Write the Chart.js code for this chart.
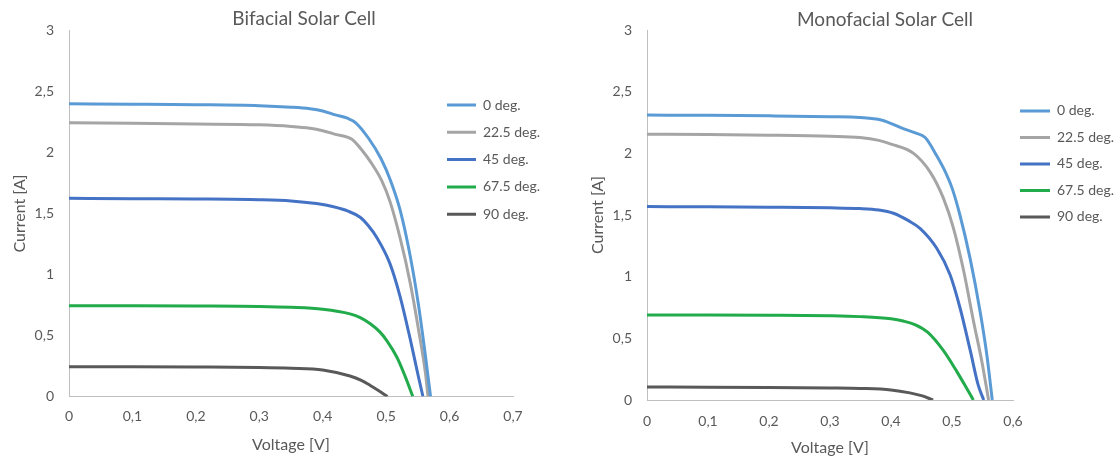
<!DOCTYPE html>
<html>
<head>
<meta charset="utf-8">
<title>Solar cell I-V curves</title>
<script src="https://cdn.jsdelivr.net/npm/chart.js@4.4.1/dist/chart.umd.min.js"></script>
<style>
  html, body { margin: 0; padding: 0; background: #fff; }
  #wrap { position: relative; width: 1117px; height: 458px; }
  canvas { position: absolute; top: 0; }
  #bifacial { left: 0; }
  #monofacial { left: 558px; }
</style>
</head>
<body>
<div id="wrap">
  <canvas id="bifacial" width="558" height="458"></canvas>
  <canvas id="monofacial" width="559" height="458"></canvas>
</div>
<script>
// series names and colours
const seriesNames = ['0 deg.', '22.5 deg.', '45 deg.', '67.5 deg.', '90 deg.'];
const seriesColors = ['#5b9bd5', '#a5a5a5', '#4472c4', '#22ab4b', '#595959'];

// tick labels (comma decimals as in the original)
const currentTicks = ['0', '0,5', '1', '1,5', '2', '2,5', '3'];
const voltTicksBi = ['0', '0,1', '0,2', '0,3', '0,4', '0,5', '0,6', '0,7'];
const voltTicksMono = ['0', '0,1', '0,2', '0,3', '0,4', '0,5', '0,6'];

// Bifacial cell, [voltage V, current A]
const bi0 = [[0,2.40],[0.1,2.397],[0.2,2.393],[0.3,2.385],[0.35,2.373],[0.38,2.36],[0.40,2.342],[0.42,2.31],[0.44,2.28],[0.452,2.245],[0.472,2.12],[0.492,1.95],[0.507,1.77],[0.522,1.53],[0.538,1.15],[0.551,0.75],[0.562,0.33],[0.570,0]];
const bi225 = [[0,2.245],[0.1,2.24],[0.2,2.235],[0.3,2.228],[0.35,2.215],[0.38,2.2],[0.40,2.18],[0.42,2.15],[0.446,2.11],[0.462,2.02],[0.476,1.92],[0.493,1.77],[0.506,1.6],[0.522,1.3],[0.538,0.93],[0.551,0.55],[0.562,0.19],[0.566,0]];
const bi45 = [[0,1.625],[0.1,1.622],[0.2,1.62],[0.3,1.614],[0.35,1.604],[0.39,1.582],[0.417,1.556],[0.44,1.52],[0.459,1.47],[0.472,1.40],[0.485,1.306],[0.506,1.09],[0.522,0.82],[0.538,0.47],[0.551,0.16],[0.558,0]];
const bi675 = [[0,0.745],[0.1,0.745],[0.2,0.743],[0.3,0.739],[0.35,0.732],[0.4,0.716],[0.443,0.678],[0.46,0.645],[0.475,0.596],[0.49,0.53],[0.501,0.459],[0.517,0.322],[0.53,0.165],[0.542,0]];
const bi90 = [[0,0.245],[0.1,0.244],[0.2,0.242],[0.3,0.238],[0.35,0.232],[0.4,0.218],[0.443,0.168],[0.46,0.135],[0.475,0.09],[0.489,0.045],[0.502,0]];

// Monofacial cell, [voltage V, current A]
const mono0 = [[0,2.31],[0.1,2.308],[0.2,2.304],[0.3,2.297],[0.349,2.29],[0.384,2.27],[0.42,2.20],[0.44,2.165],[0.456,2.128],[0.475,1.98],[0.49,1.84],[0.50,1.72],[0.513,1.50],[0.53,1.14],[0.546,0.72],[0.557,0.37],[0.566,0]];
const mono225 = [[0,2.155],[0.1,2.152],[0.2,2.147],[0.3,2.138],[0.349,2.128],[0.38,2.105],[0.40,2.075],[0.437,2.0],[0.464,1.85],[0.486,1.635],[0.502,1.40],[0.519,1.05],[0.535,0.645],[0.549,0.31],[0.56,0]];
const mono45 = [[0,1.568],[0.1,1.566],[0.2,1.563],[0.3,1.558],[0.349,1.552],[0.38,1.54],[0.404,1.514],[0.43,1.45],[0.448,1.39],[0.475,1.23],[0.497,1.014],[0.513,0.75],[0.53,0.40],[0.543,0.12],[0.552,0]];
const mono675 = [[0,0.69],[0.1,0.69],[0.2,0.688],[0.3,0.683],[0.349,0.676],[0.4,0.658],[0.42,0.64],[0.44,0.61],[0.46,0.55],[0.486,0.40],[0.508,0.23],[0.524,0.095],[0.535,0]];
const mono90 = [[0,0.105],[0.1,0.104],[0.2,0.102],[0.3,0.098],[0.35,0.094],[0.4,0.082],[0.431,0.058],[0.45,0.035],[0.469,0]];

Chart.defaults.font.family = 'Lato, "Open Sans", sans-serif';
Chart.defaults.color = '#595959';

// moves the legend and title to where the original has them
const placeBoxes = {
  id: 'placeBoxes',
  afterLayout(chart, args, opts) {
    const lg = chart.legend;
    if (lg) {
      const w = lg.width + 20;
      lg.left = opts.legendX;
      lg.right = opts.legendX + w;
      lg.width = w;
      lg.top = opts.legendY;
      lg.bottom = opts.legendY + 300;
      lg.height = 300;
    }
    const t = chart.titleBlock;
    if (t) {
      const half = (t.right - t.left) / 2;
      t.left = opts.titleX - half;
      t.right = opts.titleX + half;
    }
  }
};

function makeChart(id, o) {
  const datasets = o.series.map((pts, i) => ({
    label: seriesNames[i],
    data: pts.map(p => ({ x: p[0], y: p[1] })),
    borderColor: seriesColors[i],
    backgroundColor: seriesColors[i],
    borderWidth: 3,
    pointRadius: 0,
    cubicInterpolationMode: 'monotone',
    fill: false
  }));

  return new Chart(document.getElementById(id), {
    type: 'line',
    data: { datasets },
    plugins: [placeBoxes],
    options: {
      responsive: false,
      animation: false,
      devicePixelRatio: 1,
      layout: { padding: { left: o.padLeft, right: o.padRight, top: 0, bottom: 0 } },
      plugins: {
        tooltip: { enabled: false },
        title: {
          display: true,
          text: o.title,
          color: '#595959',
          font: { size: 19, weight: 'normal', lineHeight: 1.1 },
          padding: { top: o.titleTop, bottom: o.titleBottom }
        },
        legend: {
          position: 'chartArea',
          align: 'start',
          labels: {
            boxWidth: o.boxWidth,
            boxHeight: 3,
            padding: o.legendGap,
            color: '#595959',
            font: { size: 14 },
            generateLabels(chart) {
              return Chart.defaults.plugins.legend.labels.generateLabels(chart)
                .map(l => Object.assign(l, { lineWidth: 0 }));
            }
          }
        },
        placeBoxes: { legendX: o.legendX, legendY: o.legendY, titleX: o.titleX }
      },
      scales: {
        x: {
          type: 'linear',
          min: 0,
          max: o.xMax,
          grid: { display: false, drawTicks: false },
          border: { display: true, color: '#bfbfbf', width: 1 },
          ticks: {
            stepSize: 0.1,
            padding: o.xTickPad,
            font: { size: 14 },
            color: '#595959',
            callback: (v, i) => o.xTicks[i]
          },
          title: {
            display: true,
            text: 'Voltage [V]',
            color: '#595959',
            font: { size: 16 },
            padding: { top: 0, bottom: o.xTitleBottom }
          },
          afterFit: s => { s.height = o.xHeight; }
        },
        y: {
          type: 'linear',
          min: 0,
          max: 3,
          grid: { display: false, drawTicks: false },
          border: { display: true, color: '#bfbfbf', width: 1 },
          ticks: {
            stepSize: 0.5,
            padding: 15,
            font: { size: 14 },
            color: '#595959',
            callback: (v, i) => currentTicks[i]
          },
          title: {
            display: true,
            text: 'Current [A]',
            color: '#595959',
            font: { size: 16 },
            padding: { top: 10, bottom: 0 }
          },
          afterFit: s => { s.width = 69; }
        }
      }
    }
  });
}

makeChart('bifacial', {
  title: 'Bifacial Solar Cell',
  series: [bi0, bi225, bi45, bi675, bi90],
  xMax: 0.7,
  xTicks: voltTicksBi,
  padLeft: 0,
  padRight: 45,
  titleTop: 8,
  titleBottom: 1.8,
  titleX: 304,
  xHeight: 61.5,
  xTickPad: 12,
  xTitleBottom: 3.5,
  boxWidth: 29,
  legendGap: 13.3,
  legendX: 433.7,
  legendY: 84.7
});

makeChart('monofacial', {
  title: 'Monofacial Solar Cell',
  series: [mono0, mono225, mono45, mono675, mono90],
  xMax: 0.6,
  xTicks: voltTicksMono,
  padLeft: 20,
  padRight: 104,
  titleTop: 9,
  titleBottom: 0.1,
  titleX: 327,
  xHeight: 58,
  xTickPad: 13,
  xTitleBottom: 0.5,
  boxWidth: 30,
  legendGap: 12.5,
  legendX: 449.5,
  legendY: 91.4
});
</script>
</body>
</html>
